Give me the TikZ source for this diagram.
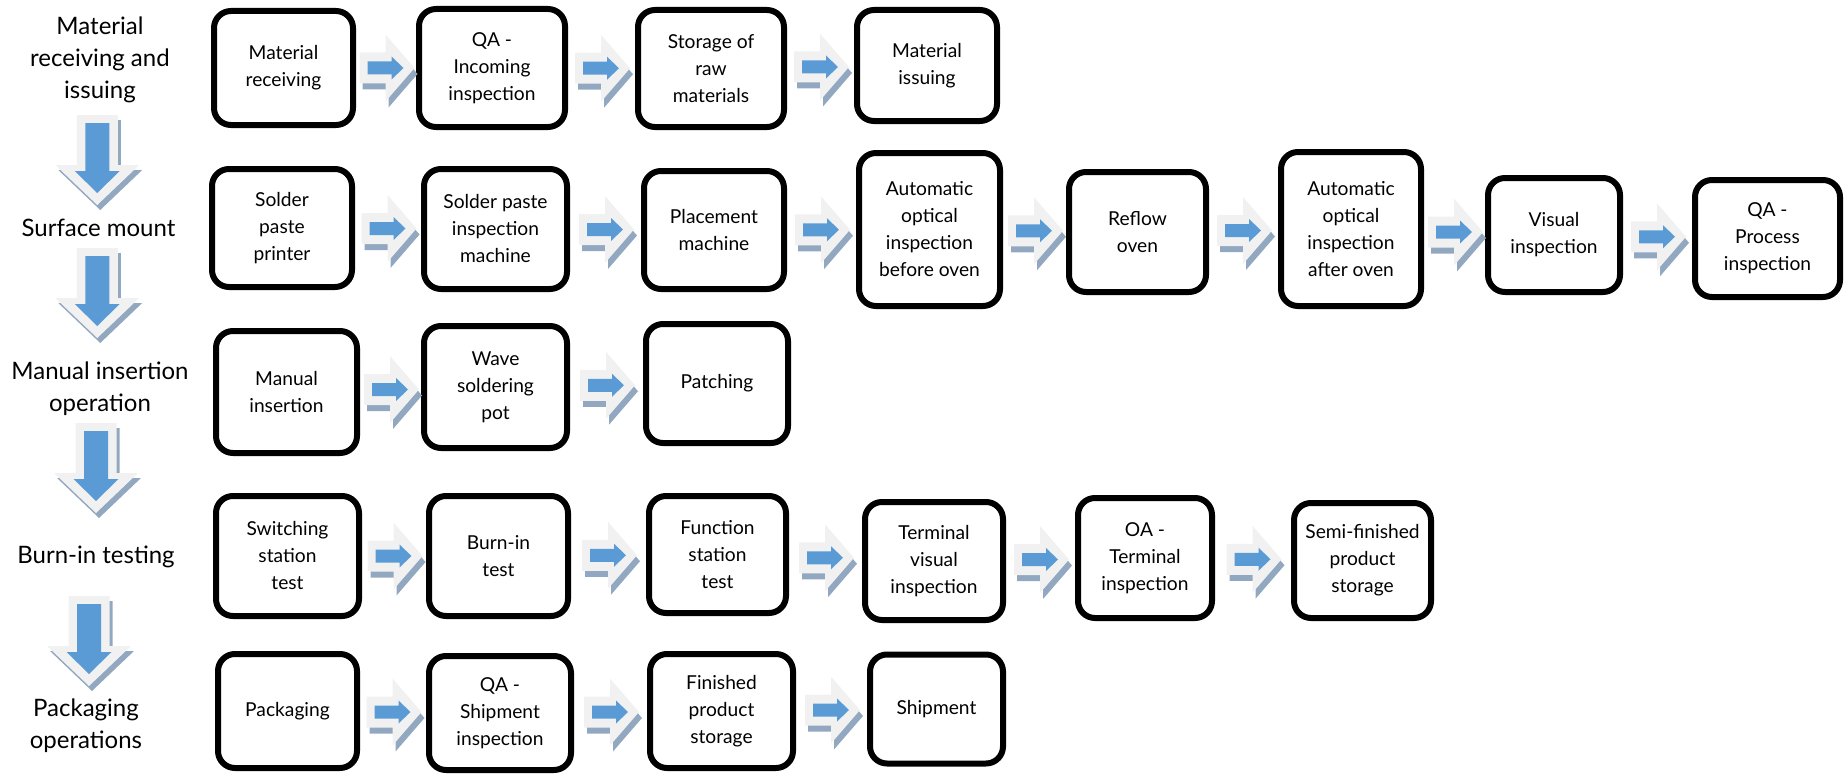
\documentclass[tikz,border=0pt]{standalone}
\usepackage{fontspec}
\setmainfont{Lato}
\usetikzlibrary{calc}

\definecolor{arrowblue}{RGB}{91,155,213}
\definecolor{arrowlight}{RGB}{241,241,241}
\definecolor{arrowshade}{RGB}{146,168,192}

\tikzset{
  stepbox/.style={draw=black, line width=6pt, rounded corners=17pt, fill=white,
    align=center, inner sep=0pt, font=\fontsize{19.2}{27}\selectfont},
  stagelabel/.style={align=center, inner sep=0pt, anchor=north,
    font=\fontsize{24}{32}\selectfont},
  lightpart/.style={fill=arrowlight},
  bluepart/.style={fill=arrowblue},
  shadepart/.style={fill=arrowshade},
}

% block arrow pointing right, placed in the gap between two boxes
\newcommand\flowarrow[2]{%
  \path let \p1=(#1.east), \p2=(#2.west), \p3=(#1.center), \p4=(#2.center) in
    coordinate (fa-#1) at ({(\x1+\x2)/2+1pt}, {(\y3+\y4)/2});
  \begin{scope}[shift={(fa-#1)}]
    \fill[shadepart, shift={(3,6)}] (-27.5,-15.5) -- (-1.5,-15.5) -- (-1.5,-33.5) -- (27.5,0)
      -- (-1.5,33.5) -- (-1.5,15.5) -- (-27.5,15.5) -- cycle;
    \fill[lightpart] (-27.5,-15.5) -- (-1.5,-15.5) -- (-1.5,-33.5) -- (27.5,0)
      -- (-1.5,33.5) -- (-1.5,15.5) -- (-27.5,15.5) -- cycle;
    \fill[bluepart] (-19.5,-6.5) -- (4.5,-6.5) -- (4.5,-11.5) -- (16.5,0)
      -- (4.5,11.5) -- (4.5,6.5) -- (-19.5,6.5) -- cycle;
  \end{scope}}

% block arrow pointing down, between two stage labels
\newcommand\stagearrow[3]{%
  \path let \p1=(#1.center), \p2=(#2.center) in
    coordinate (sa-#1) at ({(\x1+\x2)/2-2pt}, #3);
  \begin{scope}[shift={(sa-#1)}]
    \fill[shadepart, shift={(3,5)}] (-20.5,-45) -- (20.5,-45) -- (20.5,5) -- (42,5)
      -- (0,45) -- (-42,5) -- (-20.5,5) -- cycle;
    \fill[lightpart] (-20.5,-45) -- (20.5,-45) -- (20.5,5) -- (42,5)
      -- (0,45) -- (-42,5) -- (-20.5,5) -- cycle;
    \fill[bluepart] (-12,-37) -- (12,-37) -- (12,11) -- (22.5,11)
      -- (0,33) -- (-22.5,11) -- (-12,11) -- cycle;
  \end{scope}}

\begin{document}
\begin{tikzpicture}[x=1pt, y=-1pt]
  \useasboundingbox (0,0) rectangle (1848,776);

  % stage labels
  \node[stagelabel] (L1) at (100,17)  {Material\\receiving and\\issuing};
  \node[stagelabel] (L2) at (98.5,219) {Surface mount};
  \node[stagelabel] (L3) at (100,362) {Manual insertion\\operation};
  \node[stagelabel] (L4) at (96,546)  {Burn-in testing};
  \node[stagelabel] (L5) at (86,699)  {Packaging\\operations};

  \stagearrow{L1}{L2}{160}
  \stagearrow{L2}{L3}{293}
  \stagearrow{L3}{L4}{468}
  \stagearrow{L4}{L5}{641}

  % material receiving and issuing
  \node[stepbox, minimum width=139pt, minimum height=114pt] (a1) at (283.5,68)  {Material\\receiving};
  \node[stepbox, minimum width=146pt, minimum height=118pt] (a2) at (492,68)    {QA -\\Incoming\\inspection};
  \node[stepbox, minimum width=146pt, minimum height=117pt] (a3) at (711,68.5)  {Storage of\\raw\\materials};
  \node[stepbox, minimum width=140pt, minimum height=111pt] (a4) at (927,65.5)  {Material\\issuing};

  % surface mount
  \node[stepbox, minimum width=140pt, minimum height=118pt] (b1) at (282,228)    {Solder\\paste\\printer};
  \node[stepbox, minimum width=143pt, minimum height=120pt] (b2) at (495.5,229)  {Solder paste\\inspection\\machine};
  \node[stepbox, minimum width=140pt, minimum height=118pt] (b3) at (714,230)    {Placement\\machine};
  \node[stepbox, minimum width=141pt, minimum height=153pt] (b4) at (929.5,229.5) {Automatic\\optical\\inspection\\before oven};
  \node[stepbox, minimum width=137pt, minimum height=120pt] (b5) at (1137.5,232) {Reflow\\oven};
  \node[stepbox, minimum width=140pt, minimum height=154pt] (b6) at (1351,229)   {Automatic\\optical\\inspection\\after oven};
  \node[stepbox, minimum width=132pt, minimum height=114pt] (b7) at (1554,235)   {Visual\\inspection};
  \node[stepbox, minimum width=145pt, minimum height=117pt] (b8) at (1767.5,238.5) {QA -\\Process\\inspection};

  % manual insertion operation
  \node[stepbox, minimum width=141pt, minimum height=122pt] (c1) at (286.5,392)  {Manual\\insertion};
  \node[stepbox, minimum width=143pt, minimum height=122pt] (c2) at (495.5,387)  {Wave\\soldering\\pot};
  \node[stepbox, minimum width=142pt, minimum height=119pt] (c3) at (717,383.5)  {Patching};

  % burn-in testing
  \node[stepbox, minimum width=143pt, minimum height=120pt] (d1) at (287.5,556)  {Switching\\station\\test};
  \node[stepbox, minimum width=139pt, minimum height=120pt] (d2) at (498.5,556)  {Burn-in\\test};
  \node[stepbox, minimum width=137pt, minimum height=117pt] (d3) at (717.5,554.5) {Function\\station\\test};
  \node[stepbox, minimum width=138pt, minimum height=118pt] (d4) at (934,561)    {Terminal\\visual\\inspection};
  \node[stepbox, minimum width=134pt, minimum height=120pt] (d5) at (1145,558)   {OA -\\Terminal\\inspection};
  \node[stepbox, minimum width=137pt, minimum height=115pt] (d6) at (1362.5,560.5) {Semi-finished\\product\\storage};

  % packaging operations
  \node[stepbox, minimum width=139pt, minimum height=114pt] (e1) at (287.5,711)  {Packaging};
  \node[stepbox, minimum width=142pt, minimum height=114pt] (e2) at (500,713)    {QA -\\Shipment\\inspection};
  \node[stepbox, minimum width=143pt, minimum height=114pt] (e3) at (721.5,711)  {Finished\\product\\storage};
  \node[stepbox, minimum width=133pt, minimum height=109pt] (e4) at (936.5,709)  {Shipment};

  % flow arrows
  \flowarrow{a1}{a2} \flowarrow{a2}{a3} \flowarrow{a3}{a4}
  \flowarrow{b1}{b2} \flowarrow{b2}{b3} \flowarrow{b3}{b4} \flowarrow{b4}{b5}
  \flowarrow{b5}{b6} \flowarrow{b6}{b7} \flowarrow{b7}{b8}
  \flowarrow{c1}{c2} \flowarrow{c2}{c3}
  \flowarrow{d1}{d2} \flowarrow{d2}{d3} \flowarrow{d3}{d4} \flowarrow{d4}{d5} \flowarrow{d5}{d6}
  \flowarrow{e1}{e2} \flowarrow{e2}{e3} \flowarrow{e3}{e4}
\end{tikzpicture}
\end{document}
